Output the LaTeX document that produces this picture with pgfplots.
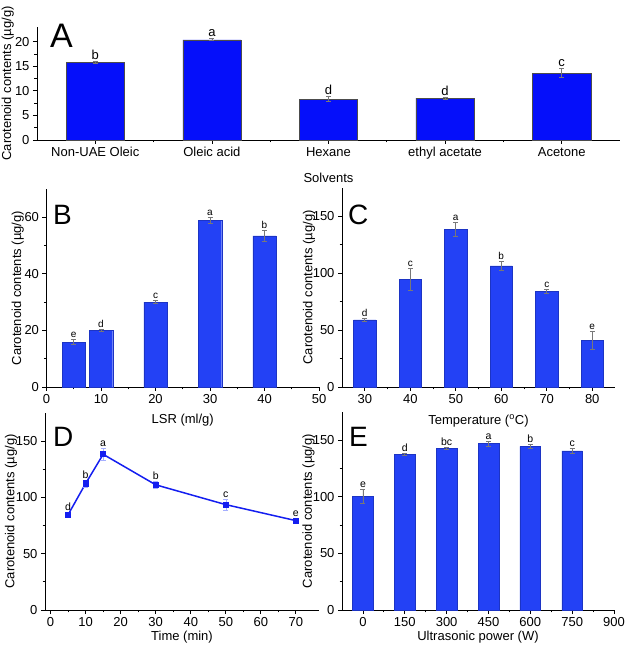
\documentclass[border=0pt]{standalone}
\usepackage{fontspec}
\setmainfont{Liberation Sans}
\usepackage{pgfplots}
\usepackage{pgfplotstable}
\pgfplotsset{compat=1.18}

\definecolor{barA}{RGB}{5,15,250}
\definecolor{barB}{RGB}{35,65,245}
\definecolor{lineD}{RGB}{20,30,240}
\definecolor{errc}{RGB}{120,120,120}
\definecolor{errD}{RGB}{165,175,255}

\pgfplotstableread{
x y err lab
0 15.8 0.2 b
1 20.4 0.2 a
2 8.3 0.5 d
3 8.5 0.2 d
4 13.6 0.9 c
}\tabA
\pgfplotstableread{
x y err lab
5 15.9 0.8 e
10 20.1 0.4 d
20 30.0 0.5 c
30 59.0 1.0 a
40 53.4 2.0 b
}\tabB
\pgfplotstableread{
x y err lab
0 59.0 1.5 d
1 94.7 10 c
2 138.6 6 a
3 106.5 4 b
4 84.1 2 c
5 40.9 8 e
}\tabC
\pgfplotstableread{
x y err lab
5 84.7 2 d
10 112.4 3 b
15 138.3 5 a
30 111.2 3 b
50 93.6 5 c
70 79.4 2 e
}\tabD
\pgfplotstableread{
x y err lab
0 100.6 6 e
150 137.4 1 d
300 142.7 1 bc
450 147.1 2 a
600 144.7 2 b
750 140.6 2.5 c
}\tabE

\newcommand{\fs}{\fontsize{13}{15}\selectfont}
\pgfplotsset{
  panel/.style={
    scale only axis,
    axis x line*=bottom, axis y line*=left,
    axis line style={line width=0.9pt,-},
    tick align=outside,
    major tick length=4pt, minor tick length=2.5pt,
    every tick/.style={black, line width=0.8pt},
    minor tick num=1,
    tick label style={font=\fs},
    label style={font=\fs},
    /pgf/number format/assume math mode=true,
    clip=false,
  },
  errbars/.style={error bars/.cd, y dir=both, y explicit,
    error bar style={#1, line width=0.6pt},
    error mark options={rotate=90, mark size=2.5pt, #1, line width=0.6pt}},
  letters/.style={draw=none, mark=none, nodes near coords, point meta=explicit symbolic,
    every node near coord/.append style={font=#1, anchor=south, inner sep=1.5pt, black}},
}

\begin{document}
\begin{tikzpicture}
\path[use as bounding box] (0,0) rectangle (625pt,650pt);

% Panel A
\begin{axis}[panel, at={(37pt,510pt)}, anchor=south west,
  width=583pt, height=113pt,
  xmin=-0.5, xmax=4.5, ymin=0, ymax=23,
  xtick={0,1,2,3,4},
  xticklabels={Non-UAE Oleic, Oleic acid, Hexane, ethyl acetate, Acetone},
  ytick={0,5,10,15,20},
  xlabel={Solvents}, ylabel={Carotenoid contents (µg/g)},
  xlabel style={at={(axis description cs:0.5,-0.336)}, anchor=center},
  ylabel style={at={(axis description cs:-0.05,0.5)}, anchor=center},
]
\addplot[ybar, bar width=0.5, fill=barA, draw=black!70, line width=0.4pt,
  errbars=errc] table[x=x, y=y, y error=err] {\tabA};
\addplot[letters=\fs] table[x=x, y expr=\thisrow{y}+\thisrow{err}, meta=lab] {\tabA};
\end{axis}

% Panel B
\begin{axis}[panel, at={(46.5pt,263pt)}, anchor=south west,
  width=272.5pt, height=198pt,
  xmin=0, xmax=50, ymin=0, ymax=70,
  xtick={0,10,20,30,40,50}, ytick={0,20,40,60},
  xlabel={LSR (ml/g)}, ylabel={Carotenoid contents (µg/g)},
  xlabel style={at={(axis description cs:0.5,-0.167)}, anchor=center},
  ylabel style={at={(axis description cs:-0.105,0.5)}, anchor=center},
]
\addplot[ybar, bar width=4.3, fill=barB, draw=barB!80!black, line width=0.4pt,
  errbars=errc] table[x=x, y=y, y error=err] {\tabB};
\addplot[letters=\fontsize{10}{12}\selectfont] table[x=x, y expr=\thisrow{y}+\thisrow{err}, meta=lab] {\tabB};
\end{axis}

% Panel C
\begin{axis}[panel, at={(342pt,263pt)}, anchor=south west,
  width=273pt, height=199pt,
  xmin=-0.5, xmax=5.5, ymin=0, ymax=175,
  xtick={0,1,2,3,4,5}, xticklabels={30,40,50,60,70,80},
  ytick={0,50,100,150},
  xlabel={Temperature (\textsuperscript{o}C)}, ylabel={Carotenoid contents (µg/g)},
  xlabel style={at={(axis description cs:0.5,-0.17)}, anchor=center},
  ylabel style={at={(axis description cs:-0.121,0.5)}, anchor=center},
]
\addplot[ybar, bar width=0.49, fill=barB, draw=barB!80!black, line width=0.4pt,
  errbars=errc] table[x=x, y=y, y error=err] {\tabC};
\addplot[letters=\fontsize{10}{12}\selectfont] table[x=x, y expr=\thisrow{y}+\thisrow{err}, meta=lab] {\tabC};
\end{axis}

% Panel D
\begin{axis}[panel, at={(45pt,40pt)}, anchor=south west,
  width=274pt, height=197pt,
  xmin=-1.6, xmax=76.6, ymin=0, ymax=175,
  xtick={0,10,...,70}, ytick={0,50,100,150},
  xlabel={Time (min)}, ylabel={Carotenoid contents (µg/g)},
  xlabel style={at={(axis description cs:0.5,-0.137)}, anchor=center},
  ylabel style={at={(axis description cs:-0.124,0.5)}, anchor=center},
]
\addplot[lineD, line width=1.5pt, mark=square*, mark size=2.3pt,
  errbars=errD] table[x=x, y=y, y error=err] {\tabD};
\addplot[letters=\fontsize{10.5}{12}\selectfont] table[x=x, y expr=\thisrow{y}+\thisrow{err}, meta=lab] {\tabD};
\end{axis}

% Panel E
\begin{axis}[panel, at={(342pt,40pt)}, anchor=south west,
  width=272pt, height=198pt,
  xmin=-75, xmax=900, ymin=0, ymax=175,
  xtick={0,150,...,900}, ytick={0,50,100,150},
  xlabel={Ultrasonic power (W)}, ylabel={Carotenoid contents (µg/g)},
  xlabel style={at={(axis description cs:0.5,-0.136)}, anchor=center},
  ylabel style={at={(axis description cs:-0.123,0.5)}, anchor=center},
]
\addplot[ybar, bar width=74, fill=barB, draw=barB!80!black, line width=0.4pt,
  errbars=errc] table[x=x, y=y, y error=err] {\tabE};
\addplot[letters=\fontsize{10.5}{12}\selectfont] table[x=x, y expr=\thisrow{y}+\thisrow{err}, meta=lab] {\tabE};
\end{axis}

% panel letters
\node[anchor=base west, inner sep=0pt, font=\fontsize{34}{36}\selectfont] at (50pt,602pt) {A};
\node[anchor=base west, inner sep=0pt, font=\fontsize{28}{30}\selectfont] at (53pt,425pt) {B};
\node[anchor=base west, inner sep=0pt, font=\fontsize{28}{30}\selectfont] at (348pt,425pt) {C};
\node[anchor=base west, inner sep=0pt, font=\fontsize{28}{30}\selectfont] at (53pt,203pt) {D};
\node[anchor=base west, inner sep=0pt, font=\fontsize{28}{30}\selectfont] at (349pt,203pt) {E};
\end{tikzpicture}
\end{document}
